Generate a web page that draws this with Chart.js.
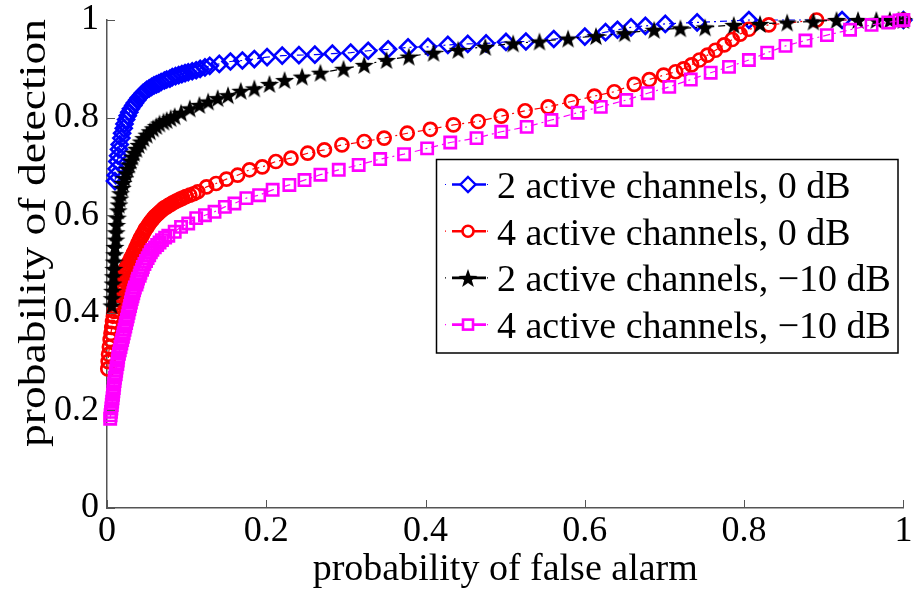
<!DOCTYPE html>
<html>
<head>
<meta charset="utf-8">
<script src="https://cdn.jsdelivr.net/npm/chart.js@4/dist/chart.umd.min.js"></script>
<style>
  html, body { margin: 0; padding: 0; background: #fff; }
  #wrap { width: 914px; height: 592px; }
</style>
</head>
<body>
<div id="wrap"><canvas id="roc" width="914" height="592"></canvas></div>
<script>
// ROC curves: probability of detection vs probability of false alarm
const seriesLabels = [
  '2 active channels, 0 dB',
  '4 active channels, 0 dB',
  '2 active channels, \u221210 dB',
  '4 active channels, \u221210 dB'
];

const pfa2ch0dB = [0.010,0.011,0.012,0.013,0.014,0.015,0.016,0.018,0.019,0.021,0.022,0.024,0.026,0.028,0.030,0.033,0.035,0.038,0.040,0.043,0.045,0.048,0.050,0.053,0.056,0.059,0.062,0.065,0.068,0.072,0.075,0.079,0.082,0.086,0.090,0.094,0.098,0.102,0.107,0.112,0.117,0.123,0.129,0.141,0.155,0.170,0.185,0.201,0.220,0.241,0.261,0.283,0.306,0.328,0.353,0.378,0.403,0.428,0.453,0.476,0.501,0.526,0.561,0.600,0.626,0.641,0.658,0.676,0.701,0.741,0.806,0.923,1.000];
const pd2ch0dB  = [0.670,0.682,0.695,0.710,0.722,0.735,0.745,0.758,0.768,0.778,0.787,0.796,0.804,0.811,0.818,0.825,0.830,0.836,0.841,0.846,0.850,0.854,0.857,0.860,0.863,0.866,0.868,0.870,0.873,0.876,0.878,0.880,0.883,0.885,0.887,0.889,0.891,0.893,0.895,0.897,0.900,0.903,0.906,0.910,0.915,0.917,0.920,0.924,0.927,0.928,0.929,0.931,0.933,0.937,0.940,0.944,0.945,0.949,0.951,0.952,0.955,0.956,0.961,0.966,0.975,0.980,0.985,0.988,0.992,0.995,1.000,1.000,1.000];

const pfa4ch0dB = [0.001,0.0015,0.002,0.003,0.004,0.005,0.006,0.007,0.008,0.009,0.010,0.011,0.012,0.013,0.014,0.016,0.017,0.018,0.019,0.020,0.021,0.022,0.023,0.024,0.026,0.027,0.029,0.030,0.032,0.033,0.035,0.036,0.038,0.039,0.041,0.042,0.044,0.045,0.047,0.048,0.050,0.052,0.054,0.056,0.058,0.060,0.062,0.064,0.066,0.068,0.070,0.072,0.075,0.077,0.080,0.082,0.085,0.087,0.090,0.092,0.095,0.099,0.104,0.109,0.114,0.125,0.137,0.150,0.164,0.179,0.195,0.212,0.231,0.252,0.273,0.295,0.323,0.348,0.377,0.406,0.435,0.466,0.495,0.525,0.554,0.583,0.612,0.637,0.662,0.681,0.699,0.714,0.724,0.734,0.744,0.754,0.764,0.775,0.785,0.795,0.806,0.831,0.891,1.000];
const pd4ch0dB  = [0.285,0.300,0.315,0.330,0.345,0.358,0.370,0.382,0.393,0.403,0.412,0.420,0.428,0.436,0.443,0.450,0.456,0.462,0.468,0.473,0.478,0.483,0.488,0.492,0.497,0.502,0.507,0.512,0.517,0.522,0.527,0.532,0.538,0.543,0.549,0.553,0.558,0.562,0.567,0.571,0.575,0.580,0.585,0.589,0.593,0.597,0.600,0.603,0.606,0.609,0.612,0.615,0.617,0.620,0.622,0.625,0.627,0.629,0.631,0.633,0.635,0.638,0.641,0.644,0.648,0.658,0.665,0.674,0.682,0.693,0.699,0.710,0.717,0.727,0.734,0.744,0.751,0.758,0.768,0.776,0.785,0.792,0.803,0.814,0.822,0.833,0.844,0.853,0.868,0.878,0.887,0.894,0.900,0.908,0.918,0.928,0.938,0.949,0.960,0.971,0.981,0.990,1.000,1.000];

const pfa2chM10dB = [0.006,0.0065,0.007,0.0075,0.008,0.0085,0.009,0.0095,0.010,0.011,0.0115,0.012,0.013,0.014,0.015,0.016,0.017,0.019,0.020,0.022,0.024,0.026,0.028,0.030,0.032,0.034,0.037,0.040,0.043,0.046,0.050,0.054,0.058,0.062,0.066,0.071,0.075,0.080,0.085,0.093,0.104,0.116,0.127,0.139,0.152,0.168,0.185,0.204,0.223,0.245,0.268,0.297,0.323,0.351,0.379,0.410,0.441,0.475,0.510,0.543,0.579,0.614,0.650,0.687,0.720,0.751,0.787,0.820,0.854,0.887,0.916,0.943,0.966,0.983,0.994,1.000];
const pd2chM10dB  = [0.415,0.430,0.445,0.460,0.475,0.490,0.505,0.520,0.535,0.550,0.565,0.580,0.595,0.610,0.622,0.634,0.645,0.656,0.666,0.676,0.686,0.695,0.704,0.712,0.720,0.728,0.736,0.744,0.751,0.758,0.765,0.772,0.778,0.783,0.788,0.792,0.795,0.799,0.803,0.810,0.819,0.826,0.833,0.840,0.846,0.855,0.860,0.869,0.877,0.884,0.892,0.900,0.908,0.918,0.925,0.933,0.939,0.945,0.952,0.956,0.962,0.967,0.973,0.980,0.983,0.985,0.990,0.992,0.995,0.997,1.000,1.000,1.000,1.000,1.000,1.000];

const pfa4chM10dB = [0.004,0.0045,0.005,0.0055,0.006,0.0065,0.007,0.0075,0.008,0.0085,0.009,0.0095,0.010,0.011,0.0115,0.012,0.013,0.0135,0.014,0.015,0.016,0.017,0.018,0.019,0.020,0.021,0.022,0.023,0.024,0.025,0.026,0.027,0.028,0.029,0.030,0.031,0.032,0.033,0.034,0.035,0.037,0.038,0.039,0.041,0.042,0.044,0.045,0.047,0.049,0.051,0.053,0.055,0.057,0.060,0.063,0.066,0.069,0.073,0.077,0.085,0.093,0.102,0.112,0.123,0.135,0.148,0.160,0.175,0.191,0.208,0.229,0.248,0.268,0.291,0.316,0.343,0.373,0.402,0.431,0.464,0.495,0.527,0.558,0.591,0.620,0.652,0.679,0.706,0.733,0.758,0.781,0.806,0.829,0.852,0.877,0.904,0.933,0.960,0.981,0.995,1.000];
const pd4chM10dB  = [0.183,0.190,0.197,0.204,0.211,0.218,0.225,0.232,0.239,0.246,0.253,0.260,0.267,0.274,0.281,0.288,0.295,0.302,0.309,0.316,0.323,0.330,0.337,0.344,0.351,0.358,0.365,0.372,0.379,0.386,0.393,0.400,0.407,0.414,0.421,0.428,0.434,0.440,0.446,0.452,0.458,0.464,0.470,0.476,0.482,0.488,0.494,0.500,0.506,0.512,0.518,0.524,0.529,0.534,0.539,0.544,0.549,0.554,0.558,0.566,0.576,0.583,0.594,0.600,0.607,0.617,0.624,0.635,0.641,0.652,0.662,0.672,0.683,0.693,0.703,0.715,0.725,0.737,0.749,0.758,0.771,0.781,0.795,0.810,0.822,0.836,0.850,0.863,0.878,0.892,0.904,0.918,0.933,0.947,0.958,0.969,0.980,0.990,0.995,0.999,1.000];

const tickValues = [0, 0.2, 0.4, 0.6, 0.8, 1];
const tickLabels = ['0', '0.2', '0.4', '0.6', '0.8', '1'];
const xTitle = 'probability of false alarm';
const yTitle = 'probability of detection';

const SERIF = '"Liberation Serif", "Times New Roman", serif';
const lineDash = [7, 4, 2, 4];

function pairs(xs, ys) { return xs.map((x, i) => ({ x: x, y: ys[i] })); }

// filled five-pointed star used as a point style
function makeStar(r, color) {
  const s = Math.ceil(r * 2 + 2);
  const c = document.createElement('canvas');
  c.width = s; c.height = s;
  const g = c.getContext('2d');
  g.beginPath();
  for (let i = 0; i < 10; i++) {
    const a = -Math.PI / 2 + i * Math.PI / 5;
    const rr = (i % 2) ? r * 0.4 : r;
    g.lineTo(s / 2 + rr * Math.cos(a), s / 2 + rr * Math.sin(a) + r * 0.1);
  }
  g.closePath();
  g.fillStyle = color;
  g.fill();
  return c;
}
const starImg = makeStar(10, '#000');

const styles = [
  { color: '#0000ff', marker: 'diamond' },
  { color: '#ff0000', marker: 'circle' },
  { color: '#000000', marker: 'star' },
  { color: '#ff00ff', marker: 'square' }
];

function dataset(i, xs, ys) {
  const st = styles[i];
  const ds = {
    label: seriesLabels[i],
    data: pairs(xs, ys),
    showLine: true,
    borderColor: st.color,
    borderWidth: 1.2,
    borderDash: lineDash,
    backgroundColor: 'rgba(0,0,0,0)',
    pointBorderColor: st.color,
    pointBackgroundColor: 'rgba(0,0,0,0)',
    pointHoverRadius: 0,
    clip: false,
    order: 3 - i
  };
  if (st.marker === 'diamond') { ds.pointStyle = 'rectRot'; ds.pointRadius = 8;   ds.pointBorderWidth = 2.6; }
  if (st.marker === 'circle')  { ds.pointStyle = 'circle';  ds.pointRadius = 6.5; ds.pointBorderWidth = 2.7; }
  if (st.marker === 'star')    { ds.pointStyle = starImg;   ds.pointRadius = 10;  ds.pointBorderWidth = 0; }
  if (st.marker === 'square')  { ds.pointStyle = 'rect';    ds.pointRadius = 8;   ds.pointBorderWidth = 2.6; }
  return ds;
}

// inward tick marks, y-axis title and the boxed legend
const decor = {
  id: 'decor',
  afterDraw(chart) {
    const ctx = chart.ctx;
    const xs = chart.scales.x, ys = chart.scales.y;
    const area = chart.chartArea;
    ctx.save();
    ctx.strokeStyle = '#555';
    ctx.lineWidth = 1;
    ctx.setLineDash([]);
    tickValues.forEach(v => {
      const px = Math.round(xs.getPixelForValue(v)) + 0.5;
      ctx.beginPath(); ctx.moveTo(px, area.bottom); ctx.lineTo(px, area.bottom - 8); ctx.stroke();
      const py = Math.round(ys.getPixelForValue(v)) + 0.5;
      ctx.beginPath(); ctx.moveTo(area.left, py); ctx.lineTo(area.left + 8, py); ctx.stroke();
    });

    // y-axis title, set a little taller along its length
    ctx.save();
    ctx.translate(45, 233);
    ctx.rotate(-Math.PI / 2);
    ctx.scale(1.2, 1);
    ctx.font = '38px ' + SERIF;
    ctx.fillStyle = '#000';
    ctx.textAlign = 'center';
    ctx.textBaseline = 'alphabetic';
    ctx.fillText(yTitle, 0, 0);
    ctx.restore();

    // legend
    const bx = 436.5, by = 159.5, bw = 461.5, bh = 193.5;
    ctx.fillStyle = '#fff';
    ctx.fillRect(bx, by, bw, bh);
    ctx.strokeStyle = '#000';
    ctx.lineWidth = 1.5;
    ctx.strokeRect(bx, by, bw, bh);
    ctx.font = '38px ' + SERIF;
    ctx.textAlign = 'left';
    ctx.textBaseline = 'alphabetic';
    seriesLabels.forEach((lab, i) => {
      const base = 198 + 46.7 * i;
      const ly = base - 13.5;
      const st = styles[i];
      ctx.strokeStyle = st.color;
      ctx.lineWidth = 1.2;
      ctx.setLineDash([1, 6]);
      ctx.beginPath(); ctx.moveTo(445, ly); ctx.lineTo(492, ly); ctx.stroke();
      ctx.setLineDash([]);
      ctx.lineWidth = 2.6;
      ctx.beginPath(); ctx.moveTo(452, ly); ctx.lineTo(486, ly); ctx.stroke();
      const mx = 468;
      ctx.fillStyle = '#fff';
      if (st.marker === 'diamond') {
        ctx.lineWidth = 2.4;
        ctx.beginPath(); ctx.moveTo(mx, ly - 7.5); ctx.lineTo(mx + 7.5, ly); ctx.lineTo(mx, ly + 7.5); ctx.lineTo(mx - 7.5, ly); ctx.closePath();
        ctx.fill(); ctx.stroke();
      } else if (st.marker === 'circle') {
        ctx.lineWidth = 2.6;
        ctx.beginPath(); ctx.arc(mx, ly, 5.5, 0, Math.PI * 2); ctx.fill(); ctx.stroke();
      } else if (st.marker === 'star') {
        ctx.drawImage(starImg, mx - starImg.width / 2, ly - starImg.height / 2);
      } else {
        ctx.lineWidth = 2.6;
        ctx.fillRect(mx - 5, ly - 5, 10, 10);
        ctx.strokeRect(mx - 5, ly - 5, 10, 10);
      }
      ctx.fillStyle = '#000';
      ctx.fillText(lab, 497, base);
    });
    ctx.restore();
  }
};

const tickFont = { family: SERIF, size: 36 };
const titleFont = { family: SERIF, size: 38, lineHeight: 1 };

new Chart(document.getElementById('roc'), {
  type: 'scatter',
  data: {
    datasets: [
      dataset(0, pfa2ch0dB, pd2ch0dB),
      dataset(1, pfa4ch0dB, pd4ch0dB),
      dataset(2, pfa2chM10dB, pd2chM10dB),
      dataset(3, pfa4chM10dB, pd4chM10dB)
    ]
  },
  options: {
    responsive: false,
    animation: false,
    devicePixelRatio: 1,
    layout: { padding: { top: 20, right: 7, left: 0, bottom: 0 } },
    plugins: { legend: { display: false }, tooltip: { enabled: false } },
    events: [],
    scales: {
      x: {
        type: 'linear', min: 0, max: 1,
        grid: { display: false, drawTicks: false },
        border: { display: true, color: '#555', width: 1.5 },
        afterBuildTicks: s => { s.ticks = tickValues.map(v => ({ value: v })); },
        ticks: {
          font: tickFont, color: '#000', padding: 2, maxRotation: 0, autoSkip: false,
          callback: v => tickLabels[tickValues.indexOf(v)]
        },
        title: { display: true, text: xTitle, font: titleFont, color: '#000', padding: { top: 0, bottom: 3 } },
        afterFit: s => { s.height = 84; s.paddingLeft = 0; s.paddingRight = 0; }
      },
      y: {
        type: 'linear', min: 0, max: 1,
        grid: { display: false, drawTicks: false },
        border: { display: true, color: '#555', width: 1.5 },
        afterBuildTicks: s => { s.ticks = tickValues.map(v => ({ value: v })); },
        ticks: {
          font: tickFont, color: '#000', padding: 8, autoSkip: false,
          callback: v => tickLabels[tickValues.indexOf(v)]
        },
        title: { display: false },
        afterFit: s => { s.width = 107; s.paddingTop = 0; s.paddingBottom = 0; }
      }
    }
  },
  plugins: [decor]
});
</script>
</body>
</html>
